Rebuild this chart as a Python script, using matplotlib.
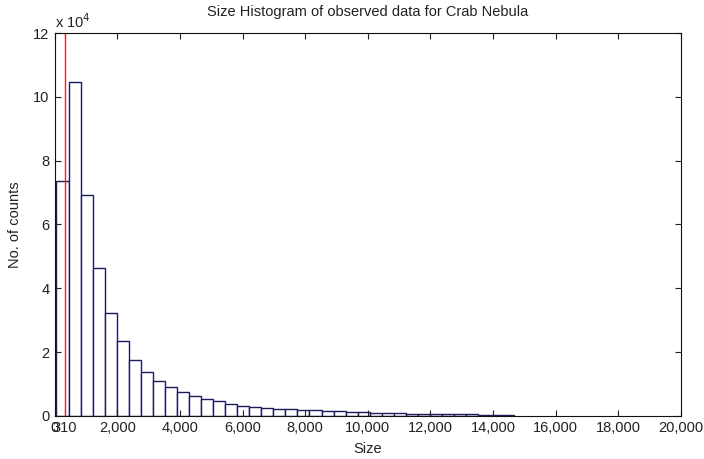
import matplotlib
matplotlib.use('Agg')
import matplotlib.pyplot as plt
import numpy as np
from matplotlib.ticker import FuncFormatter

# histogram of Size
bin_start = 50
bin_width = 385
counts = [73500, 104500, 69300, 46200, 32100, 23400, 17500, 13800, 10900, 9000,
          7500, 6300, 5200, 4500, 3750, 3200, 2700, 2500, 2100, 2000,
          1800, 1700, 1500, 1400, 1300, 1100, 1000, 800, 750, 700,
          650, 600, 550, 500, 450, 400, 400, 350]
cut_value = 310

xticks = [0, 310, 2000, 4000, 6000, 8000, 10000, 12000, 14000, 16000, 18000, 20000]
xtick_labels = ['0', '310', '2,000', '4,000', '6,000', '8,000', '10,000',
                '12,000', '14,000', '16,000', '18,000', '20,000']
yticks = [0, 20000, 40000, 60000, 80000, 100000, 120000]

plt.rcParams['font.family'] = ['Liberation Sans', 'DejaVu Sans']
fs = 10.5
txt = '#222222'

fig = plt.figure(figsize=(7.04, 4.59), dpi=100)
ax = fig.add_axes([0.078, 0.094, 0.889, 0.834])

edges = bin_start + bin_width * np.arange(len(counts))
ax.bar(edges, counts, width=bin_width, align='edge', facecolor='white',
       edgecolor='#1c1c5a', linewidth=1.0)
ax.plot([cut_value, cut_value], [0, 120000], color='#c83232', linewidth=1.0)

ax.set_xlim(0, 20000)
ax.set_ylim(0, 120000)
ax.set_xticks(xticks)
ax.set_xticklabels(xtick_labels)
ax.set_yticks(yticks)
ax.yaxis.set_major_formatter(FuncFormatter(lambda v, p: f'{v / 1e4:g}'))
ax.tick_params(direction='in', top=True, right=True, length=4, width=0.8,
               labelsize=fs, colors=txt, pad=4)
for s in ax.spines.values():
    s.set_linewidth(0.8)
    s.set_color('#111111')

ax.text(0.0, 1.005, r'x 10$^4$', transform=ax.transAxes, ha='left', va='bottom',
        fontsize=fs, color=txt)
ax.set_title('Size Histogram of observed data for Crab Nebula', fontsize=fs,
             color=txt, pad=12)
ax.set_xlabel('Size', fontsize=fs, color=txt, labelpad=5)
ax.set_ylabel('No. of counts', fontsize=fs, color=txt, labelpad=8)

fig.savefig('out.png', dpi=100)
